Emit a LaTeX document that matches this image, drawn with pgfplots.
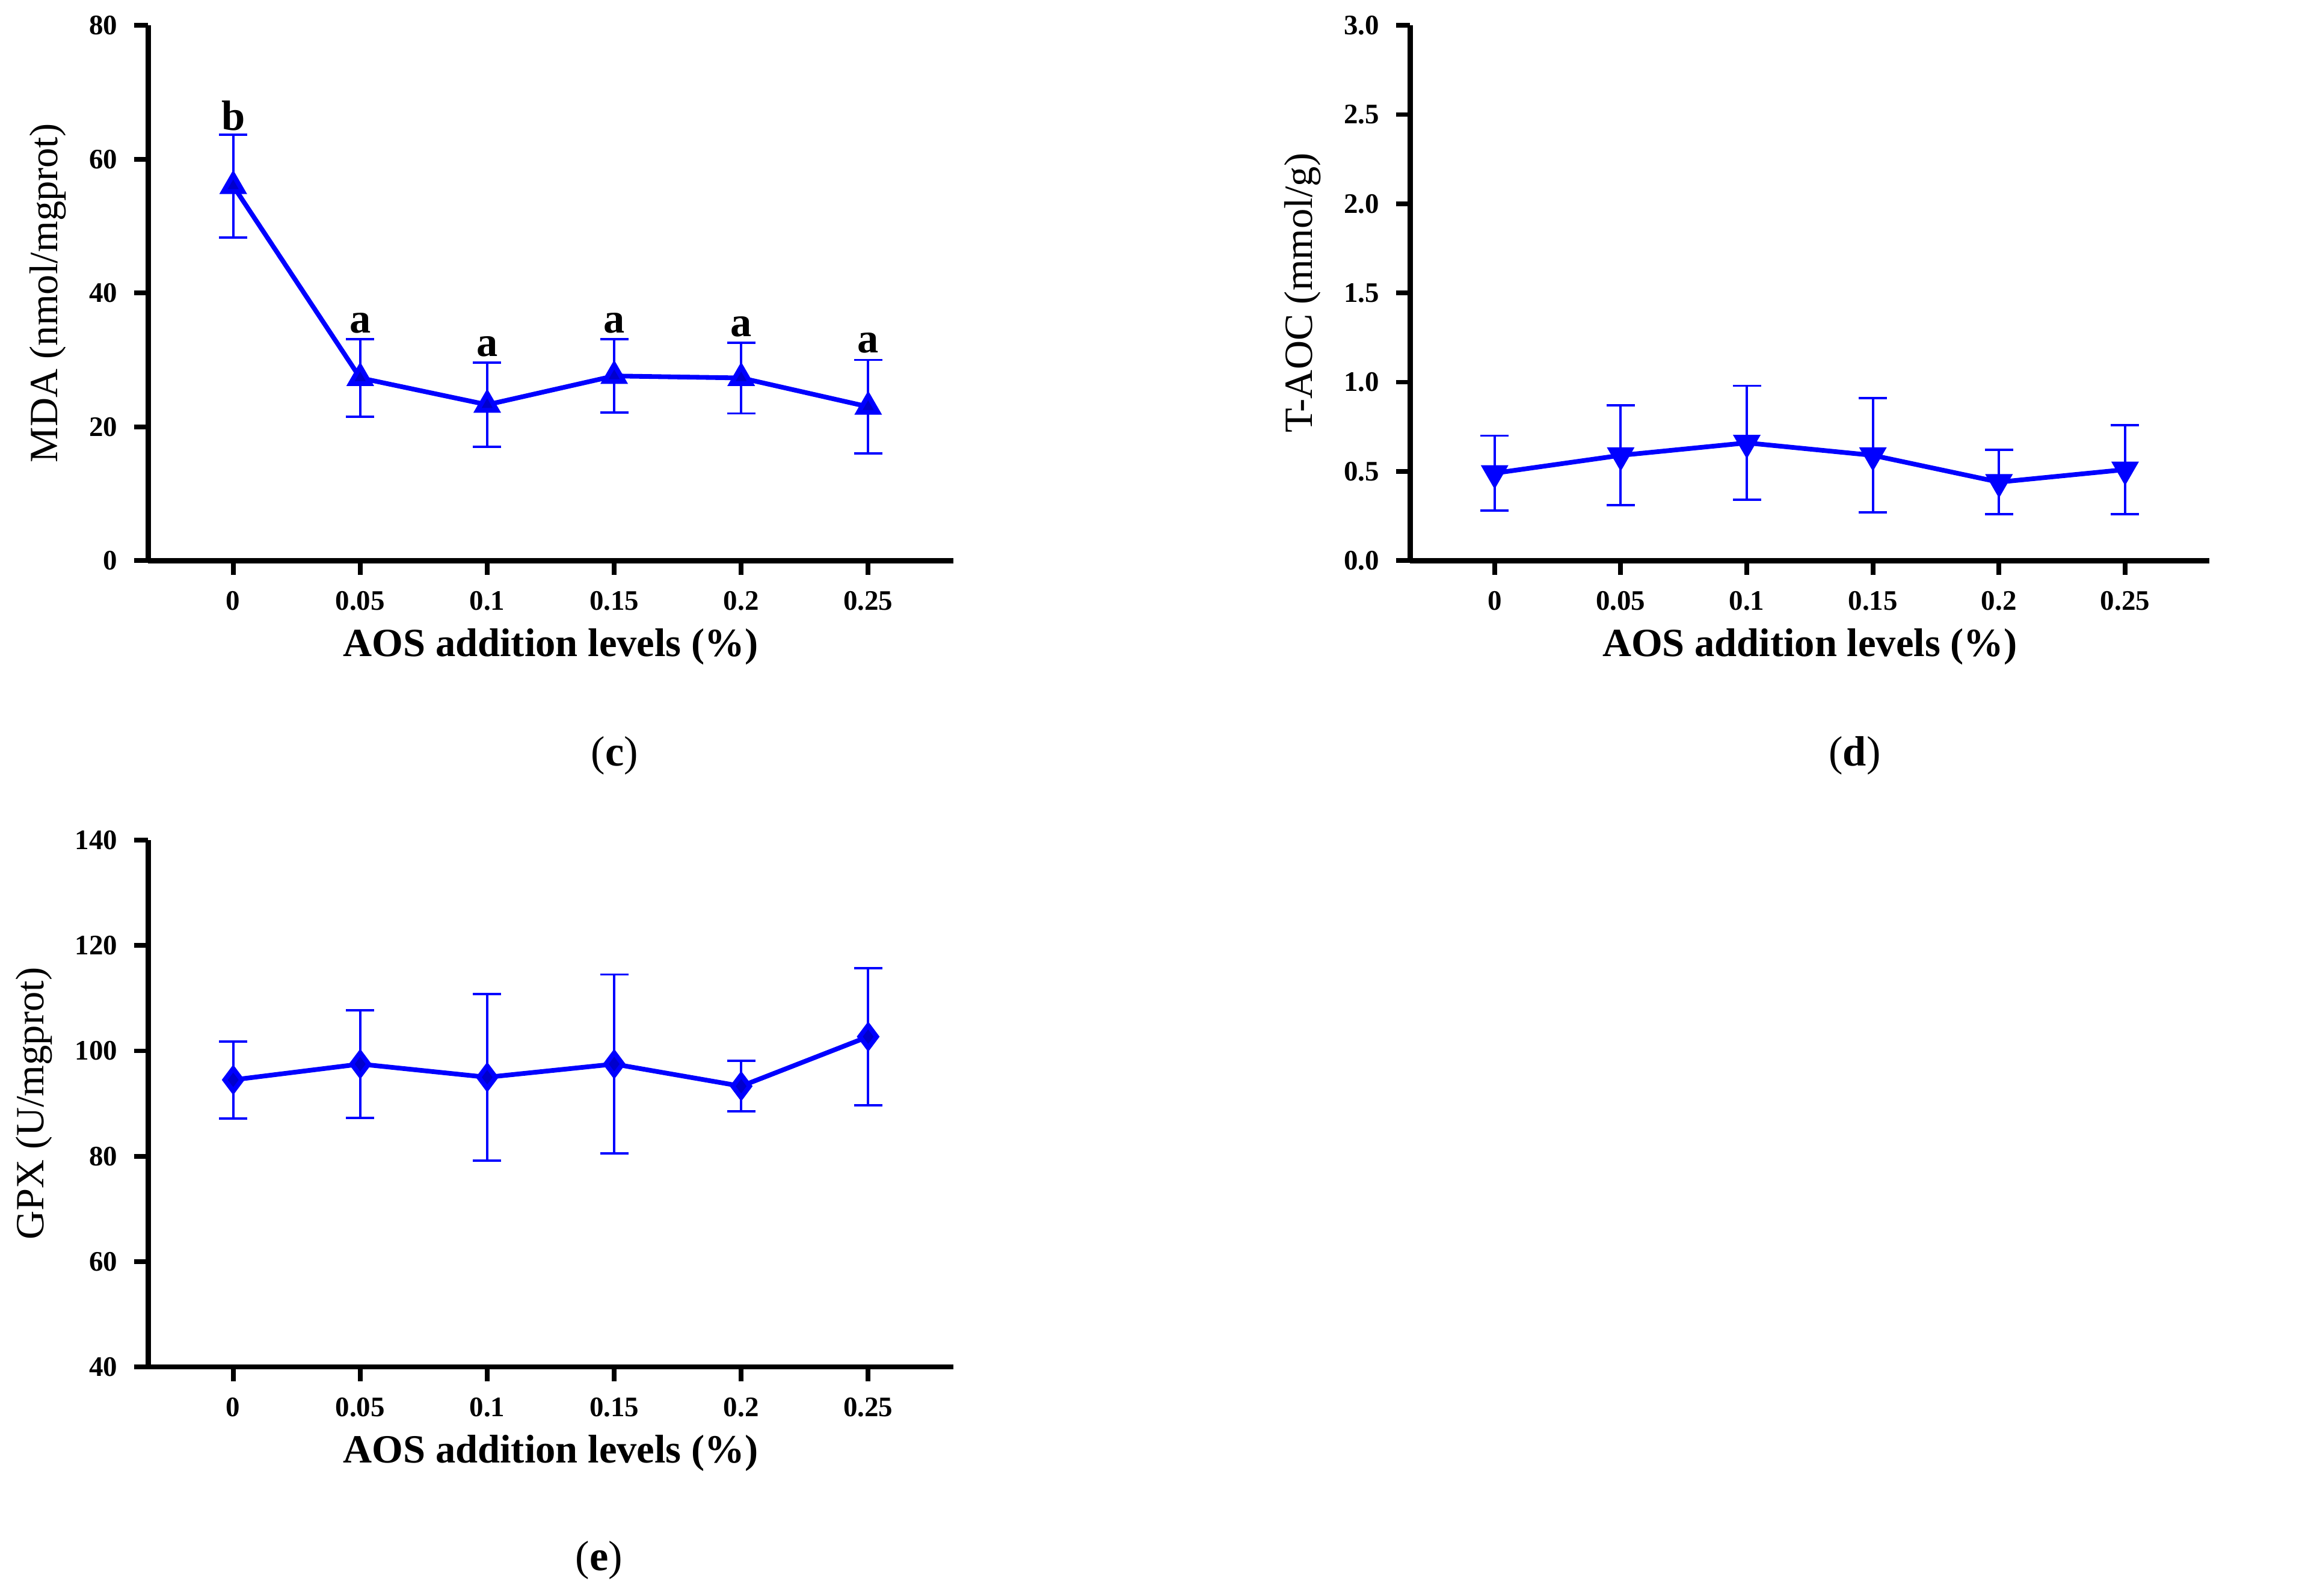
\documentclass[border=0pt]{standalone}
\usepackage{pgfplots}
\pgfplotsset{compat=1.18}
\usepackage{fontspec}
\setmainfont{Liberation Serif}
\pgfplotsset{
  myax/.style={
    scale only axis, width=171pt, anchor=origin,
    axis lines=left, axis line style={line width=1.1pt,-},
    tick style={line width=1pt,black}, tick align=outside, major tick length=3pt,
    xmin=-0.67, xmax=5.67, xtick={0,...,5},
    xticklabels={0,0.05,0.1,0.15,0.2,0.25},
    ticklabel style={font=\fontsize{6}{7}\selectfont\bfseries},
    /pgf/number format/assume math mode=true,
    xlabel={\textbf{AOS addition levels (\%)}},
    label style={font=\fontsize{8.5}{10}\selectfont},
    xlabel style={yshift=3pt},
    ylabel style={yshift=-2pt},
    every axis plot/.append style={line width=1pt, black, mark size=2.4pt,
      error bars/y dir=both, error bars/y explicit,
      error bars/error bar style={line width=0.5pt},
      error bars/error mark options={rotate=90, mark size=3pt, line width=0.5pt}},
    clip=false,
  }
}
\tikzset{lt/.style={font=\fontsize{9}{10}\selectfont\bfseries}}
\begin{document}
\begin{tikzpicture}
\path (0,0) rectangle (470.4pt,339pt);
\begin{axis}[myax, at={(29.1pt,219.9pt)}, height=113.7pt,
  ymin=0, ymax=80, ytick={0,20,...,80}, ylabel={MDA (nmol/mgprot)}]
\addplot+[mark=triangle*] coordinates {
 (0,56) +- (0,7.7) (1,27.3) +- (0,5.8) (2,23.3) +- (0,6.3)
 (3,27.6) +- (0,5.5) (4,27.3) +- (0,5.3) (5,23) +- (0,7)};
\node[lt] at (axis cs:0,66.5) {b};
\node[lt] at (axis cs:1,35.5) {a};
\node[lt] at (axis cs:2,32) {a};
\node[lt] at (axis cs:3,35.5) {a};
\node[lt] at (axis cs:4,35) {a};
\node[lt] at (axis cs:5,32.5) {a};
\end{axis}
\begin{axis}[myax, at={(297pt,219.9pt)}, width=169.8pt, height=113.7pt,
  ymin=0, ymax=3, ytick={0,0.5,...,3},
  yticklabel style={/pgf/number format/.cd,fixed,fixed zerofill,precision=1},
  ylabel={T-AOC (mmol/g)}]
\addplot+[mark=triangle*, mark options={rotate=180}] coordinates {
 (0,0.49) +- (0,0.21) (1,0.59) +- (0,0.28) (2,0.66) +- (0,0.32)
 (3,0.59) +- (0,0.32) (4,0.44) +- (0,0.18) (5,0.51) +- (0,0.25)};
\end{axis}
\begin{axis}[myax, at={(29.1pt,48.6pt)}, height=111.9pt,
  ymin=40, ymax=140, ytick={40,60,...,140}, ylabel={GPX (U/mgprot)}]
\addplot+[mark=diamond*] coordinates {
 (0,94.5) +- (0,7.3) (1,97.5) +- (0,10.2) (2,95) +- (0,15.8)
 (3,97.5) +- (0,17) (4,93.3) +- (0,4.8) (5,102.7) +- (0,13)};
\end{axis}
\node[font=\fontsize{9}{10}\selectfont] at (110.1pt,178.5pt) {(\textbf{c})};
\node[font=\fontsize{9}{10}\selectfont] at (373.5pt,178.5pt) {(\textbf{d})};
\node[font=\fontsize{9}{10}\selectfont] at (106.8pt,7.5pt) {(\textbf{e})};
\end{tikzpicture}
\end{document}
